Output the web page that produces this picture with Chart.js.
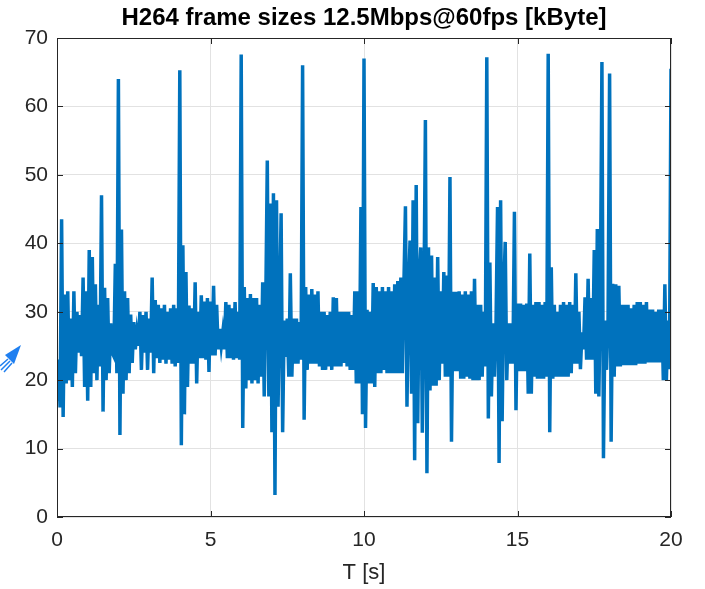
<!DOCTYPE html>
<html>
<head>
<meta charset="utf-8">
<script src="https://cdn.jsdelivr.net/npm/chart.js@4.4.1/dist/chart.umd.min.js"></script>
<style>
  body { margin: 0; background: #fff; }
  #wrap { width: 705px; height: 589px; }
</style>
</head>
<body>
<div id="wrap"><canvas id="grafico" width="705" height="589"></canvas></div>
<script>
// 1. Datos (20 muestras por segundo)
const muestrasPorSegundo = 20;
const tamanos = [
  17, 23, 16, 43.5, 14.6, 32.5, 19.5, 33, 20, 29, 19, 33, 21, 30, 24, 29.5, 23.5, 35, 19, 33,
  17, 39, 19, 38, 21, 34, 20, 31, 22, 47, 15.4, 33.5, 20, 32, 21, 28.3, 24, 23.5, 37, 21,
  64, 12, 42, 18, 33, 20, 32, 21, 29.6, 22.5, 28.5, 24.5, 27, 25, 30, 21.5, 29.5, 24, 30, 21.5,
  29, 24, 35, 21, 31.7, 23.2, 31, 22.5, 30.5, 23, 31, 22.4, 30, 23, 30.5, 22.4, 31, 22, 30.5, 22.5,
  65.3, 10.5, 39.7, 15, 35.8, 19, 30.9, 22.4, 30.5, 22.4, 34.3, 19.5, 30, 23.2, 32.4, 23.2, 31.5, 23, 32, 21.2,
  31.5, 23.6, 33.8, 23.6, 31, 24.5, 27.5, 25, 27, 24.5, 31.4, 23.2, 31, 23.2, 30.5, 23, 31.4, 23.2, 30, 23,
  67.6, 13, 33.6, 18.8, 32, 20, 32.6, 19.5, 32, 20, 32, 19.5, 31, 20.5, 34.3, 17.6, 31, 52.1, 17.6, 45.8,
  12.4, 47.3, 3.2, 46.3, 16.1, 30, 44.4, 12.4, 28.7, 23.4, 29, 20.5, 35.6, 20.5, 29, 22.4, 29, 22.4, 28.5, 23,
  66, 14.2, 33.6, 21.5, 32.5, 22.4, 33.3, 22.4, 32.5, 22.4, 33, 22, 30, 21.5, 30, 21.5, 29.5, 22, 30, 21.5,
  32.1, 22, 32, 22, 30, 22, 30, 22.5, 30, 22, 30, 21.5, 29.5, 21.5, 33, 19.5, 33, 19.5, 45.3, 15,
  67, 13, 30.3, 19.5, 30, 19.5, 34.2, 19, 33.6, 21, 33, 21, 33.6, 21.5, 33, 21, 33.6, 21, 33, 21,
  34, 21, 34.5, 21, 35, 21, 34, 45.4, 16.1, 33, 40.4, 18, 46.3, 8.3, 48.5, 13.7, 35, 39.4, 12.3, 30,
  58, 6.4, 39.4, 18.5, 38.2, 19.2, 35, 19.2, 38, 20, 33, 22.4, 35.8, 20.5, 35.3, 20.5, 49.7, 11, 32.9, 21.3,
  32.9, 21.3, 33, 20.2, 32.5, 20.2, 33, 20.5, 32.5, 20.2, 33, 20, 34.8, 20, 31, 20, 31, 20.5, 30, 22,
  67.2, 14.4, 37.2, 17.6, 28.3, 20.5, 28, 45.3, 7.9, 46.3, 14, 33, 40.2, 20, 28.3, 22.4, 28.3, 22.4, 44.6, 15.6,
  31.2, 21.3, 31.2, 21.3, 31, 21.3, 31.2, 18, 38.5, 18, 31, 20.5, 31.4, 20.2, 31.4, 20.2, 31, 20.2, 31.4, 20.5,
  67.7, 12.4, 36.5, 20.2, 31, 20.5, 30, 20.5, 31, 20.5, 31.4, 20.5, 31, 20.5, 31.4, 21, 31, 22.4, 35.6, 22.4,
  30, 21.6, 27, 24.5, 32.1, 23, 34.8, 23, 32, 23, 39, 18, 42.1, 17.6, 33, 66.5, 8.6, 28.7, 21.5, 28.7,
  64.8, 11, 34.1, 20.5, 34, 22, 33.8, 22, 31, 22.2, 31, 22.2, 31, 22.2, 30.5, 22.2, 31, 22.2, 31.4, 22.4,
  31.4, 22.4, 31, 22.4, 31.4, 22.6, 30.3, 22.6, 30.3, 22.6, 30, 22.6, 30.3, 22.6, 30.3, 20, 34, 20, 28.7, 21.6,
  65.5
];
const ticksX = [0, 5, 10, 15, 20];
const ticksY = [0, 10, 20, 30, 40, 50, 60, 70];

const puntos = tamanos.map((v, i) => ({ x: i / muestrasPorSegundo, y: v }));
const colorEjes = '#262626';
const fuente = '"Liberation Sans", Arial, Helvetica, sans-serif';

// 2. Marco y marcas hacia dentro (estilo MATLAB)
const marcoPlugin = {
  id: 'marco',
  afterDraw(chart) {
    const { ctx, chartArea: a, scales } = chart;
    ctx.save();
    ctx.strokeStyle = colorEjes;
    ctx.lineWidth = 1;
    ctx.strokeRect(a.left + 0.5, a.top + 0.5, a.right - a.left - 1, a.bottom - a.top - 1);
    const largo = 6;
    ctx.beginPath();
    ticksX.forEach(t => {
      const x = Math.round(scales.x.getPixelForValue(t)) + 0.5;
      ctx.moveTo(x, a.bottom); ctx.lineTo(x, a.bottom - largo);
      ctx.moveTo(x, a.top); ctx.lineTo(x, a.top + largo);
    });
    ticksY.forEach(t => {
      const y = Math.round(scales.y.getPixelForValue(t)) + 0.5;
      ctx.moveTo(a.left, y); ctx.lineTo(a.left + largo, y);
      ctx.moveTo(a.right, y); ctx.lineTo(a.right - largo, y);
    });
    ctx.stroke();

    // flecha azul del borde izquierdo
    ctx.fillStyle = '#1f7ff0';
    ctx.strokeStyle = '#1f7ff0';
    ctx.beginPath();
    ctx.moveTo(21, 345); ctx.lineTo(5, 355); ctx.lineTo(14, 364); ctx.closePath();
    ctx.fill();
    ctx.lineWidth = 1.5;
    ctx.beginPath();
    ctx.moveTo(8, 359); ctx.lineTo(0, 366);
    ctx.moveTo(10, 361); ctx.lineTo(1, 370);
    ctx.moveTo(12, 363); ctx.lineTo(4, 372);
    ctx.stroke();
    ctx.restore();
  }
};

// 3. Gráfico
window.onload = function () {
  const ctx = document.getElementById('grafico');
  new Chart(ctx, {
    type: 'line',
    data: {
      datasets: [{
        data: puntos,
        borderColor: '#0072BD',
        borderWidth: 3.5,
        pointRadius: 0,
        tension: 0,
        fill: false
      }]
    },
    options: {
      responsive: false,
      animation: false,
      devicePixelRatio: 1,
      parsing: false,
      layout: { padding: { left: 0, right: 34, top: 0, bottom: 0 } },
      plugins: {
        legend: { display: false },
        tooltip: { enabled: false },
        title: {
          display: true,
          fullSize: false,
          text: 'H264 frame sizes 12.5Mbps@60fps [kByte]',
          color: '#000',
          font: { family: fuente, size: 24, weight: 'bold' },
          padding: { top: 4, bottom: 5.2 }
        }
      },
      scales: {
        x: {
          type: 'linear',
          min: 0,
          max: 20,
          afterBuildTicks: s => { s.ticks = ticksX.map(v => ({ value: v })); },
          afterFit: s => { s.height = 72; },
          ticks: { color: colorEjes, font: { family: fuente, size: 21 }, padding: 11, maxRotation: 0 },
          grid: { color: '#e2e2e2', drawTicks: false },
          border: { display: false },
          title: {
            display: true,
            text: 'T [s]',
            color: colorEjes,
            font: { family: fuente, size: 22 },
            padding: { top: 0, bottom: 3 }
          }
        },
        y: {
          min: 0,
          max: 70,
          afterBuildTicks: s => { s.ticks = ticksY.map(v => ({ value: v })); },
          afterFit: s => { s.width = 57; },
          ticks: { color: colorEjes, font: { family: fuente, size: 21 }, padding: 9 },
          grid: { color: '#e2e2e2', drawTicks: false },
          border: { display: false }
        }
      }
    },
    plugins: [marcoPlugin]
  });
};
</script>
</body>
</html>
